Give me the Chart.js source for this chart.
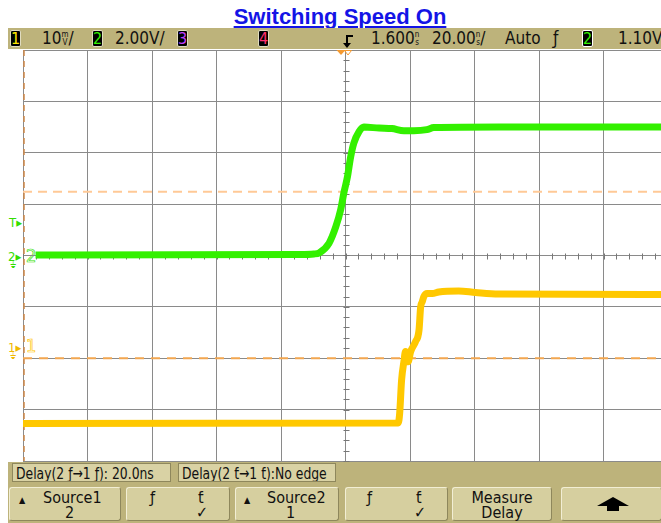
<!DOCTYPE html>
<html>
<head>
<title>Switching Speed On</title>
<script src="https://cdn.jsdelivr.net/npm/chart.js@4.4.0/dist/chart.umd.min.js"></script>
<style>
    body {
        margin: 0;
        width: 661px;
        height: 523px;
        overflow: hidden;
        position: relative;
        background: #fff;
        font-family: "Liberation Sans Narrow", "DejaVu Sans Condensed", sans-serif;
        color: #111;
    }
    .abs { position: absolute; }
    #title {
        left: 0; top: 4px; width: 680px;
        text-align: center;
        font: bold 22px "Liberation Sans", Arial, sans-serif;
        color: #1414e6;
        text-decoration: underline;
    }
    #bar {
        left: 8px; top: 28px; width: 653px; height: 21px;
        background: #bdb37b;
    }
    .badge {
        position: absolute; top: 2px;
        width: 9px; height: 15px;
        background: #000;
        border: 1px solid #e0dcc0;
        border-radius: 2px;
        font-size: 16px; line-height: 16px;
        text-align: center;
    }
    .st { position: absolute; top: 0; font-size: 17px; line-height: 21px; }
    .stk {
        display: inline-block; vertical-align: top;
        font-size: 8px; line-height: 8px; margin-top: 3px;
        text-align: center;
    }
    #plotWrap {
        left: 22px; top: 49px; width: 639px; height: 414px;
        overflow: hidden;
    }
    #panel {
        left: 8px; top: 462px; width: 653px; height: 61px;
        background: #bdb37b;
    }
    .meas {
        position: absolute; top: 1px; height: 19px;
        background: #d9d2a4;
        border: 1px solid #8e875c;
        font-size: 16px; line-height: 19px;
        padding-left: 3px; box-sizing: border-box;
        white-space: nowrap; overflow: hidden;
    }
    .meas span { display: inline-block; transform: scaleX(0.86); transform-origin: left; }
    .key {
        position: absolute; top: 25px; height: 34px;
        background: #d6cf9f;
        border: 1px solid #8e875c;
        border-top-color: #f2eed4; border-left-color: #f2eed4;
        border-radius: 3px;
        box-sizing: border-box;
        font-size: 16px;
    }
    .key span { position: absolute; line-height: 16px; }
    .mk { position: absolute; font-size: 13px; line-height: 13px; }
    .big {
        position: absolute; font-size: 18px; line-height: 18px;
        color: #fff;
    }
</style>
</head>
<body>
<div id="title" class="abs">Switching Speed On</div>

<div id="bar" class="abs">
    <div class="badge" style="left:2px;color:#ffe800">1</div>
    <div class="st" style="left:34px">10<span class="stk">m<br>V</span>/</div>
    <div class="badge" style="left:84px;color:#33f000">2</div>
    <div class="st" style="left:107px">2.00V/</div>
    <div class="badge" style="left:169px;color:#c040ff">3</div>
    <div class="badge" style="left:250px;color:#ff3070">4</div>
    <svg class="abs" style="left:334px;top:6px" width="14" height="15">
        <path d="M11 2 H5 V10" stroke="#000" stroke-width="2" fill="none"/>
        <path d="M1 9 H9 L5 14 Z" fill="#000"/>
    </svg>
    <div class="st" style="left:363px">1.600<span class="stk">n<br>s</span></div>
    <div class="st" style="left:424px">20.00<span class="stk">n<br>s</span>/</div>
    <div class="st" style="left:497px">Auto</div>
    <div class="st" style="left:545px">ƒ</div>
    <div class="badge" style="left:574px;color:#33f000;border-color:#fff">2</div>
    <div class="st" style="left:610px">1.10V</div>
</div>

<!-- left channel markers -->
<div class="mk" style="left:9px;top:216px;color:#33dd00">T▸</div>
<div class="mk" style="left:8px;top:250px;color:#33dd00">2▸</div>
<div class="mk" style="left:10px;top:259px;color:#33dd00;font-size:9px">⏚</div>
<div class="big" style="left:26px;top:247px;-webkit-text-stroke:0.7px #33e000">2</div>
<div class="mk" style="left:8px;top:341px;color:#f0b800">1▸</div>
<div class="mk" style="left:10px;top:350px;color:#f0b800;font-size:9px">⏚</div>
<div class="big" style="left:26px;top:337px;-webkit-text-stroke:0.7px #ffc400">1</div>

<div id="plotWrap" class="abs">
    <canvas id="scope" width="650" height="414"></canvas>
</div>

<div id="panel" class="abs">
    <div class="meas" style="left:4px;width:159px"><span>Delay(2 ƒ→1 ƒ): 20.0ns</span></div>
    <div class="meas" style="left:170px;width:158px"><span>Delay(2 ƭ→1 ƭ):No edge</span></div>

    <div class="key" style="left:1px;width:112px">
        <span style="left:9px;top:4px;font-size:9px">▲</span>
        <span style="left:33px;top:2px">Source1</span>
        <span style="left:55px;top:17px">2</span>
    </div>
    <div class="key" style="left:118px;width:104px">
        <span style="left:23px;top:2px">ƒ</span>
        <span style="left:71px;top:2px">ƭ</span>
        <span style="left:69px;top:17px">✓</span>
    </div>
    <div class="key" style="left:227px;width:104px">
        <span style="left:8px;top:4px;font-size:9px">▲</span>
        <span style="left:31px;top:2px">Source2</span>
        <span style="left:50px;top:17px">1</span>
    </div>
    <div class="key" style="left:337px;width:103px">
        <span style="left:21px;top:2px">ƒ</span>
        <span style="left:70px;top:2px">ƭ</span>
        <span style="left:68px;top:17px">✓</span>
    </div>
    <div class="key" style="left:444px;width:100px">
        <span style="left:0;width:98px;text-align:center;top:2px">Measure</span>
        <span style="left:0;width:98px;text-align:center;top:17px">Delay</span>
    </div>
    <div class="key" style="left:553px;width:101px">
        <svg style="position:absolute;left:34px;top:9px" width="34" height="14">
            <path d="M17 0 L33 9 H23 V14 H11 V9 H1 Z" fill="#000"/>
        </svg>
    </div>
</div>

<script>
    // time in ns, trace values in screen divisions from centre (8 vertical divisions)
    const ch2Time = [-96.1, -14.4, -9.8, -8.2, -5.1, -3.0, -1.5, -0.5, 0.6, 1.6, 2.6, 4.2, 5.7,
                     10.4, 14.4, 18.1, 21.2, 25.2, 27.4, 47.5, 100];
    const ch2Div = [0.01, 0.02, 0.03, 0.05, 0.24, 0.56, 0.89, 1.22, 1.53, 1.92, 2.19, 2.41, 2.50,
                    2.48, 2.47, 2.43, 2.43, 2.45, 2.49, 2.50, 2.50];

    const ch1Time = [-100, 16.35, 16.8, 17.4, 18.1, 18.6, 19.4, 20.2, 21.7, 22.8, 23.3, 23.8,
                     24.3, 25.3, 26.9, 28.9, 35.1, 40.3, 47.5, 100];
    const ch1Div = [-3.27, -3.26, -3.07, -2.42, -2.07, -1.87, -2.07, -1.87, -1.68, -1.45, -1.00, -0.90,
                    -0.80, -0.74, -0.74, -0.71, -0.69, -0.72, -0.75, -0.76];

    // measurement threshold levels (divisions)
    const ch2Threshold = 1.24;
    const ch1Threshold = -2.0;

    const timeRange = [-100, 100];
    const nsPerDiv = 20;

    function points(xs, ys) {
        return xs.map((x, i) => ({ x: x, y: ys[i] }));
    }

    // minor ticks on centre axes, left edge marker, trigger arrow
    const scopeMarks = {
        id: 'scopeMarks',
        beforeDatasetsDraw(chart) {
            const c = chart.ctx;
            const xs = chart.scales.x, ys = chart.scales.y;
            const x0 = Math.round(xs.getPixelForValue(0)) + 0.5;
            const y0 = Math.round(ys.getPixelForValue(0)) + 0.5;
            c.save();
            c.strokeStyle = '#777';
            c.lineWidth = 1;
            c.beginPath();
            for (let t = timeRange[0]; t <= timeRange[1]; t += nsPerDiv / 5) {
                const px = Math.round(xs.getPixelForValue(t)) + 0.5;
                c.moveTo(px, y0 - 3);
                c.lineTo(px, y0 + 3);
            }
            for (let v = -4; v <= 4.001; v += 0.2) {
                const py = Math.round(ys.getPixelForValue(v)) + 0.5;
                c.moveTo(x0 - 3, py);
                c.lineTo(x0 + 3, py);
            }
            c.stroke();

            // orange dashed left edge
            const xl = xs.getPixelForValue(timeRange[0]) + 1;
            c.strokeStyle = '#d0894a';
            c.lineWidth = 1.5;
            c.setLineDash([6, 5]);
            c.beginPath();
            c.moveTo(xl, ys.top);
            c.lineTo(xl, ys.bottom);
            c.stroke();
            c.setLineDash([]);

            // trigger position arrow at top
            const top = ys.top;
            c.fillStyle = '#f59a30';
            c.beginPath();
            c.moveTo(x0 - 10, top);
            c.lineTo(x0 - 1, top);
            c.lineTo(x0 - 5.5, top + 5);
            c.closePath();
            c.fill();
            c.strokeStyle = '#f59a30';
            c.lineWidth = 1;
            c.beginPath();
            c.moveTo(x0 - 2, top + 0.5);
            c.lineTo(x0 + 5, top + 0.5);
            c.lineTo(x0 + 1.5, top + 5);
            c.closePath();
            c.stroke();
            c.restore();
        }
    };

    new Chart(document.getElementById('scope'), {
        type: 'line',
        data: {
            datasets: [
                {
                    data: points(ch2Time, ch2Div),
                    borderColor: '#33f000',
                    borderWidth: 7,
                    pointRadius: 0,
                    cubicInterpolationMode: 'monotone',
                    order: 0
                },
                {
                    data: points(ch1Time, ch1Div),
                    borderColor: '#ffc800',
                    borderWidth: 7,
                    pointRadius: 0,
                    cubicInterpolationMode: 'monotone',
                    order: 0
                },
                {
                    data: points(timeRange, [ch2Threshold, ch2Threshold]),
                    borderColor: '#ffc996',
                    borderWidth: 2,
                    borderDash: [9, 6],
                    pointRadius: 0,
                    order: 1
                },
                {
                    data: points(timeRange, [ch1Threshold, ch1Threshold]),
                    borderColor: '#f2a650',
                    borderWidth: 2,
                    borderDash: [9, 7],
                    pointRadius: 0,
                    order: 1
                }
            ]
        },
        options: {
            responsive: false,
            animation: false,
            layout: { padding: { left: 1, top: 1, right: 4, bottom: 2 } },
            plugins: { legend: { display: false }, tooltip: { enabled: false } },
            scales: {
                x: {
                    type: 'linear',
                    min: timeRange[0], max: timeRange[1],
                    ticks: { display: false, stepSize: nsPerDiv },
                    grid: {
                        color: ctx => ctx.tick && ctx.tick.value === timeRange[1] ? 'rgba(0,0,0,0)' : '#8a8a8a',
                        drawTicks: false
                    },
                    border: { display: false }
                },
                y: {
                    min: -4, max: 4,
                    ticks: { display: false, stepSize: 1 },
                    grid: { color: '#8a8a8a', drawTicks: false },
                    border: { display: false }
                }
            }
        },
        plugins: [scopeMarks]
    });
</script>
</body>
</html>
